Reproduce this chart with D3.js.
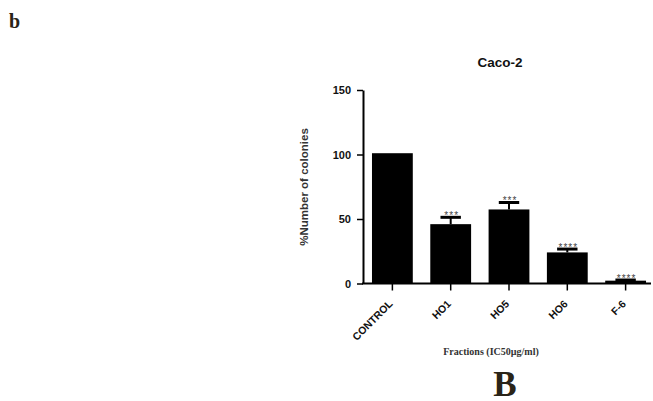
<!DOCTYPE html>
<html><head><meta charset="utf-8">
<script src="https://cdn.jsdelivr.net/npm/d3@7"></script>
<style>body{margin:0;background:#fff}svg{display:block}</style>
</head><body>
<svg id="c" width="653" height="401"></svg>
<script>
const categories = ["CONTROL", "HO1", "HO5", "HO6", "F-6"];
const values = [101, 46, 57.4, 24.1, 2.2];
const errors = [0, 5.3, 5.4, 2.6, 0.5];
const stars = ["", "***", "***", "****", "****"];
const yTicks = [0, 50, 100, 150];

const svg = d3.select("#c");
const x = d3.scaleBand().domain(categories).range([363, 655]).paddingInner(0.3).paddingOuter(0.154);
const y = d3.scaleLinear().domain([0, 150]).range([283.5, 90]);
const sans = "Liberation Sans, Arial, sans-serif";
const serif = "Liberation Serif, Times New Roman, serif";

// bars
svg.selectAll("rect.bar").data(values).join("rect")
  .attr("x", (d, i) => x(categories[i]))
  .attr("y", d => y(d))
  .attr("width", x.bandwidth())
  .attr("height", d => y(0) - y(d))
  .attr("fill", "#000");

// error bars (upper only)
const eb = svg.append("g");
values.forEach((v, i) => {
  if (!errors[i]) return;
  const cx = x(categories[i]) + x.bandwidth() / 2;
  eb.append("line").attr("x1", cx).attr("x2", cx).attr("y1", y(v)).attr("y2", y(v + errors[i]))
    .attr("stroke", "#000").attr("stroke-width", 2);
  eb.append("line").attr("x1", cx - x.bandwidth() / 4).attr("x2", cx + x.bandwidth() / 4)
    .attr("y1", y(v + errors[i])).attr("y2", y(v + errors[i]))
    .attr("stroke", "#000").attr("stroke-width", 3);
});

// stars
svg.selectAll("text.star").data(stars).join("text")
  .attr("x", (d, i) => x(categories[i]) + x.bandwidth() / 2 + 1)
  .attr("y", (d, i) => y(values[i] + errors[i]) + 2)
  .attr("text-anchor", "middle")
  .attr("font-family", sans)
  .attr("font-size", 10).attr("letter-spacing", 1).attr("fill", "#444")
  .text(d => d);

// y axis
const ya = svg.append("g").attr("transform", "translate(363,0)")
  .call(d3.axisLeft(y).tickValues(yTicks).tickSize(6).tickPadding(6).tickSizeOuter(0));
ya.select(".domain").attr("stroke-width", 2);
ya.selectAll(".tick line").attr("stroke-width", 1.5);
ya.selectAll("text").attr("font-family", sans)
  .attr("font-size", 11).attr("font-weight", "bold").attr("fill", "#111");

// x axis
const xa = svg.append("g").attr("transform", "translate(0,283.5)")
  .call(d3.axisBottom(x).tickSize(7).tickSizeOuter(0));
xa.select(".domain").attr("stroke-width", 2).attr("d", "M362,0H651");
xa.selectAll(".tick line").attr("stroke-width", 1.5);
xa.selectAll("text")
  .attr("font-family", sans)
  .attr("font-size", 10.5).attr("font-weight", "bold").attr("fill", "#111")
  .attr("text-anchor", "end")
  .attr("x", 0).attr("y", 0).attr("dy", 0)
  .attr("transform", "translate(1,21) rotate(-45)");

// title
svg.append("text").attr("x", 500).attr("y", 67).attr("text-anchor", "middle")
  .attr("font-family", sans)
  .attr("font-size", 13.5).attr("font-weight", "bold").attr("fill", "#111").text("Caco-2");

// y label
svg.append("text").attr("transform", "translate(308,187) rotate(-90)").attr("text-anchor", "middle")
  .attr("font-family", sans)
  .attr("font-size", 11.5).attr("font-weight", "bold").attr("fill", "#333").text("%Number of colonies");

// x label
svg.append("text").attr("x", 491).attr("y", 355).attr("text-anchor", "middle")
  .attr("font-family", serif)
  .attr("font-size", 10).attr("font-weight", "bold").attr("fill", "#333").text("Fractions (IC50µg/ml)");

// panel letters
svg.append("text").attr("x", 505).attr("y", 396).attr("text-anchor", "middle")
  .attr("font-family", serif)
  .attr("font-size", 35).attr("font-weight", "bold").attr("fill", "#2a2418").text("B");
svg.append("text").attr("x", 9).attr("y", 28)
  .attr("font-family", serif)
  .attr("font-size", 20).attr("font-weight", "bold").attr("fill", "#2a2418").text("b");
</script>
</body></html>
